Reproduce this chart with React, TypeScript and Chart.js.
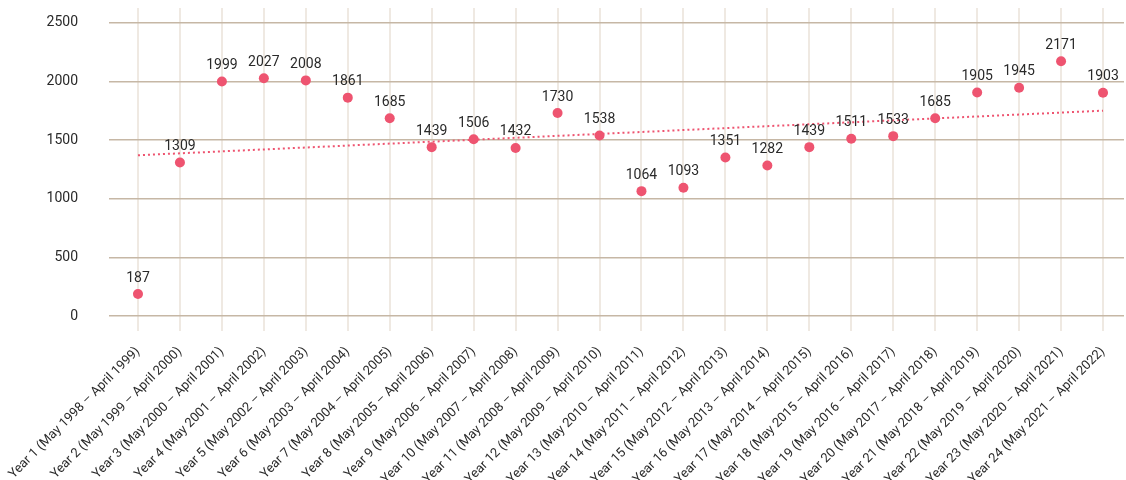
import React, { useEffect, useRef } from "react";
import { Chart, registerables } from "chart.js";

Chart.register(...registerables);

const categories: string[] = [
  "Year 1 (May 1998 – April 1999)",
  "Year 2 (May 1999 – April 2000)",
  "Year 3 (May 2000 – April 2001)",
  "Year 4 (May 2001 – April 2002)",
  "Year 5 (May 2002 – April 2003)",
  "Year 6 (May 2003 – April 2004)",
  "Year 7 (May 2004 – April 2005)",
  "Year 8 (May 2005 – April 2006)",
  "Year 9 (May 2006 – April 2007)",
  "Year 10 (May 2007 – April 2008)",
  "Year 11 (May 2008 – April 2009)",
  "Year 12 (May 2009 – April 2010)",
  "Year 13 (May 2010 – April 2011)",
  "Year 14 (May 2011 – April 2012)",
  "Year 15 (May 2012 – April 2013)",
  "Year 16 (May 2013 – April 2014)",
  "Year 17 (May 2014 – April 2015)",
  "Year 18 (May 2015 – April 2016)",
  "Year 19 (May 2016 – April 2017)",
  "Year 20 (May 2017 – April 2018)",
  "Year 21 (May 2018 – April 2019)",
  "Year 22 (May 2019 – April 2020)",
  "Year 23 (May 2020 – April 2021)",
  "Year 24 (May 2021 – April 2022)",
];

const values: number[] = [
  187, 1309, 1999, 2027, 2008, 1861, 1685, 1439, 1506, 1432, 1730, 1538,
  1064, 1093, 1351, 1282, 1439, 1511, 1533, 1685, 1905, 1945, 2171, 1903,
];

// Trend line end points
const trendStart = 1370;
const trendEnd = 1750;

const yTicks: number[] = [0, 500, 1000, 1500, 2000, 2500];

const FONT = "Roboto, 'Noto Sans', sans-serif";
const POINT_COLOR = "#ee5470";
const TEXT_COLOR = "#2a2a2a";

const valueLabels = {
  id: "valueLabels",
  afterDatasetsDraw(chart: any) {
    const meta = chart.getDatasetMeta(0);
    const ctx = chart.ctx;
    ctx.save();
    ctx.font = `14px ${FONT}`;
    ctx.fillStyle = TEXT_COLOR;
    ctx.textAlign = "center";
    ctx.textBaseline = "bottom";
    meta.data.forEach((pt: any, i: number) => {
      ctx.fillText(String(values[i]), pt.x, pt.y - 9);
    });
    ctx.restore();
  },
};

export default function App() {
  const ref = useRef<HTMLCanvasElement | null>(null);

  useEffect(() => {
    document.body.style.margin = "0";
    if (!ref.current) return;
    const trendData = values.map((_, i) =>
      i === 0 ? trendStart : i === values.length - 1 ? trendEnd : null
    );
    const chart = new Chart(ref.current, {
      type: "line",
      data: {
        labels: categories,
        datasets: [
          {
            label: "Value",
            data: values,
            showLine: false,
            pointRadius: 5,
            pointHoverRadius: 5,
            pointBackgroundColor: POINT_COLOR,
            pointBorderColor: POINT_COLOR,
            pointBorderWidth: 0,
            borderColor: POINT_COLOR,
            order: 1,
          },
          {
            label: "Trend",
            data: trendData,
            spanGaps: true,
            borderColor: POINT_COLOR,
            borderWidth: 2,
            borderDash: [2, 3],
            pointRadius: 0,
            fill: false,
            order: 2,
          },
        ],
      },
      plugins: [valueLabels],
      options: {
        animation: false,
        responsive: false,
        maintainAspectRatio: false,
        layout: { autoPadding: false, padding: { top: 8, right: 2, left: 0, bottom: 0 } },
        plugins: {
          legend: { display: false },
          tooltip: { enabled: false },
        },
        scales: {
          x: {
            offset: true,
            border: { display: false },
            grid: {
              offset: false,
              color: "#efe9e2",
              lineWidth: 2,
              tickLength: 15,
            },
            ticks: {
              autoSkip: false,
              maxRotation: 45,
              minRotation: 45,
              padding: 13,
              color: TEXT_COLOR,
              font: { family: FONT, size: 13 },
            },
            afterFit(scale: any) {
              scale.height = 164;
              scale.paddingLeft = 0;
              scale.paddingRight = 0;
              scale.paddingTop = 0;
              scale.paddingBottom = 0;
            },
          },
          y: {
            min: 0,
            max: 2625,
            border: { display: false },
            grid: {
              color: "#c6b7a5",
              lineWidth: 1.5,
              tickLength: 8,
            },
            afterBuildTicks(scale: any) {
              scale.ticks = yTicks.map((v) => ({ value: v }));
            },
            ticks: {
              padding: 31,
              color: TEXT_COLOR,
              font: { family: FONT, size: 14 },
              callback: (v: any) => String(v),
            },
            afterFit(scale: any) {
              scale.width = 117;
              scale.paddingTop = 0;
              scale.paddingBottom = 0;
              scale.paddingLeft = 0;
              scale.paddingRight = 0;
            },
          },
        },
      },
    });
    return () => chart.destroy();
  }, []);

  return (
    <div style={{ width: 1126, height: 480 }}>
      <canvas ref={ref} width={1126} height={480} style={{ display: "block" }} />
    </div>
  );
}
